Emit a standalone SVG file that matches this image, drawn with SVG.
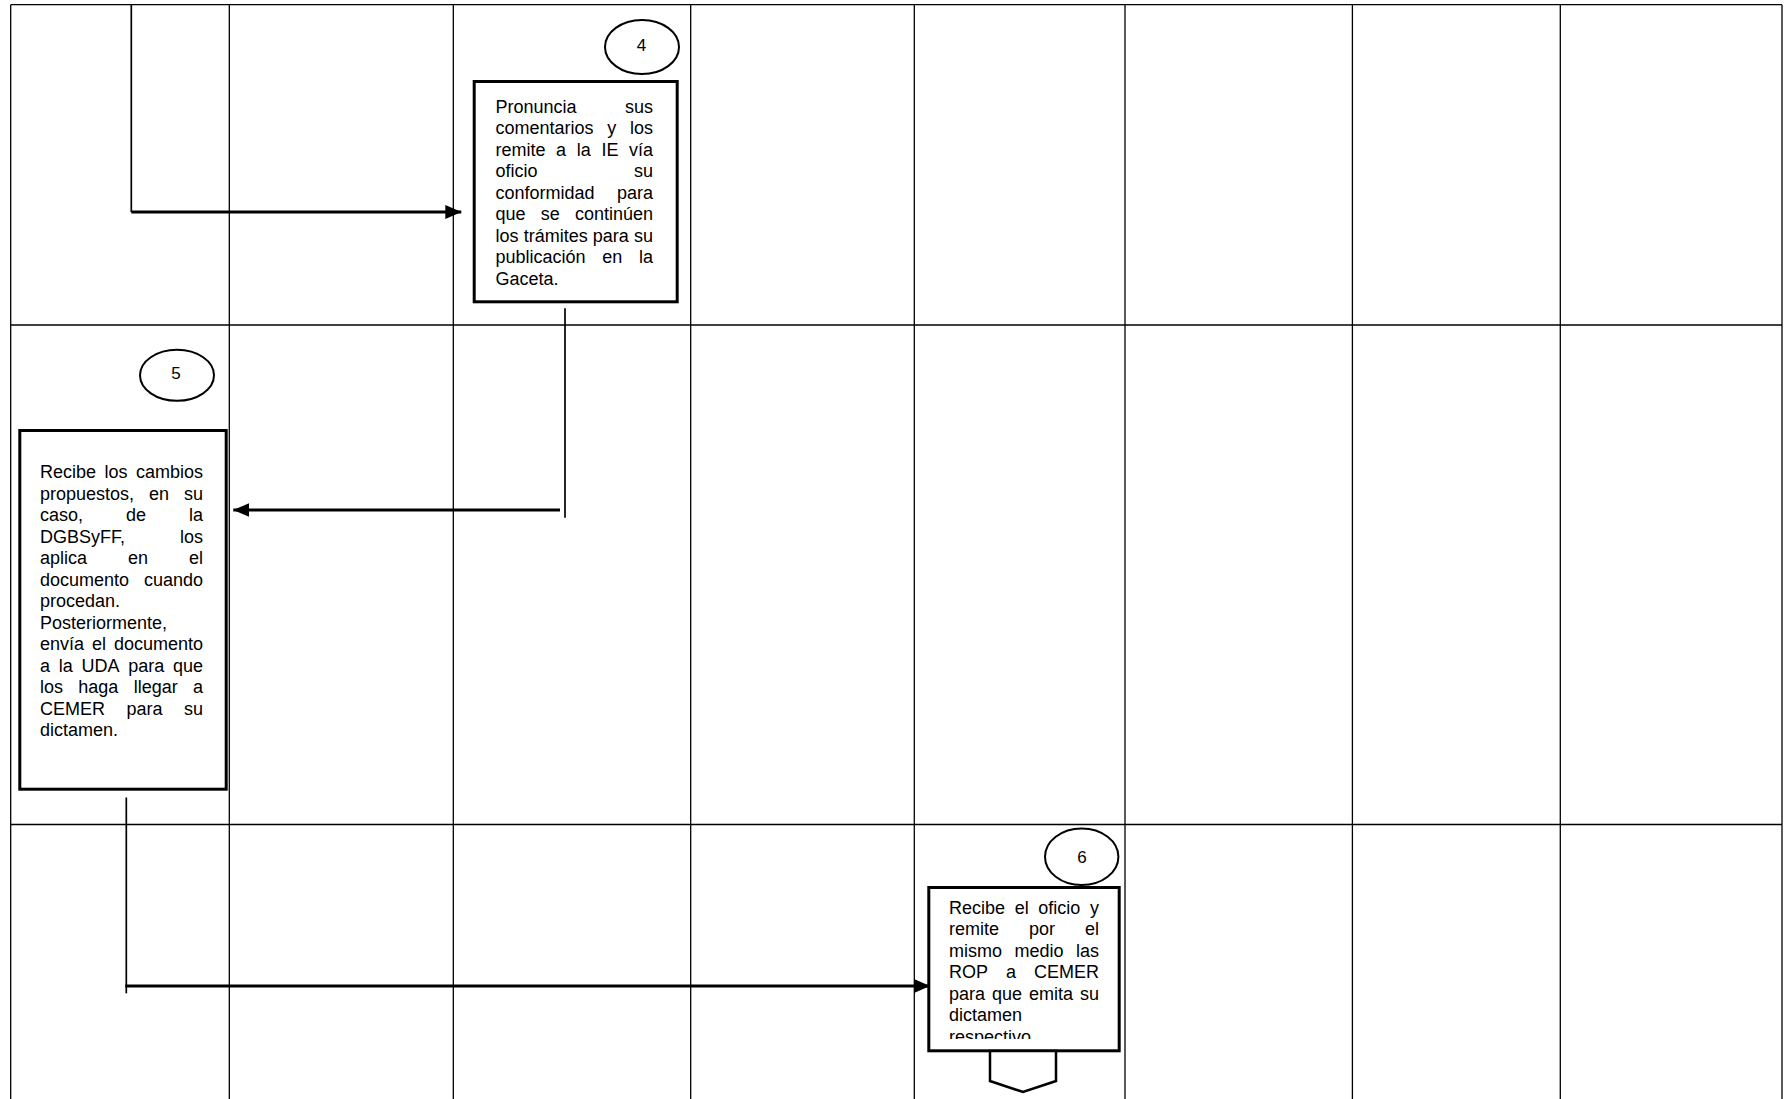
<svg xmlns="http://www.w3.org/2000/svg" width="1785" height="1099" viewBox="0 0 1785 1099">
<style>
  .grid line { stroke:#000; stroke-width:1.3; }
  .box { fill:#fff; stroke:#000; stroke-width:3; }
  .circ { fill:#fff; stroke:#000; stroke-width:2; }
  .num { font-family:"Liberation Sans", Arial, sans-serif; font-size:17px; fill:#000; text-anchor:middle; }
  .t { font-family:"Liberation Sans", Arial, sans-serif; font-size:18px; fill:#000; }
  .e { text-anchor:end; }
  .thin { stroke:#000; stroke-width:1.7; fill:none; }
  .thick { stroke:#000; stroke-width:3; fill:none; }
</style>
<defs>
  <marker id="arrow" markerUnits="userSpaceOnUse" markerWidth="16" markerHeight="14" refX="16" refY="7" orient="auto">
    <path d="M0,0 L16,7 L0,14 z" fill="#000"/>
  </marker>
  <clipPath id="clip6">
    <rect x="930" y="889" width="188" height="150"/>
  </clipPath>
</defs>
<rect x="0" y="0" width="1785" height="1099" fill="#fff"/>
<g class="grid" id="grid">
  <line x1="10.7" y1="4.7" x2="1782" y2="4.7"/>
  <line x1="10.7" y1="325" x2="1782" y2="325"/>
  <line x1="10.7" y1="824.5" x2="1782" y2="824.5"/>
  <line x1="10.7" y1="4.7" x2="10.7" y2="1099"/>
  <line x1="229.3" y1="4.7" x2="229.3" y2="1099"/>
  <line x1="453.3" y1="4.7" x2="453.3" y2="1099"/>
  <line x1="690.7" y1="4.7" x2="690.7" y2="1099"/>
  <line x1="914.3" y1="4.7" x2="914.3" y2="1099"/>
  <line x1="1125" y1="4.7" x2="1125" y2="1099"/>
  <line x1="1352.4" y1="4.7" x2="1352.4" y2="1099"/>
  <line x1="1560.3" y1="4.7" x2="1560.3" y2="1099"/>
  <line x1="1782" y1="4.7" x2="1782" y2="1099"/>
</g>
<g id="connectors">
  <line class="thin" x1="131.3" y1="4.7" x2="131.3" y2="212"/>
  <line class="thick" x1="131.3" y1="212" x2="461.3" y2="212" marker-end="url(#arrow)"/>
  <line class="thin" x1="565" y1="308.3" x2="565" y2="517.7"/>
  <line class="thick" x1="560" y1="510" x2="233.3" y2="510" marker-end="url(#arrow)"/>
  <line class="thin" x1="126.3" y1="797.5" x2="126.3" y2="993.3"/>
  <line class="thick" x1="125.3" y1="986" x2="930" y2="986" marker-end="url(#arrow)"/>
</g>
<g id="node4">
  <ellipse class="circ" cx="642" cy="47" rx="37" ry="27"/>
  <text class="num" x="641.5" y="51">4</text>
  <rect class="box" x="474.2" y="81.5" width="203" height="220.3"/>
  <text class="t" y="112.7"><tspan x="495.5">Pronuncia</tspan><tspan class="e" x="653">sus</tspan></text>
  <text class="t" y="134.2"><tspan x="495.5">comentarios</tspan><tspan x="607.3">y</tspan><tspan class="e" x="653">los</tspan></text>
  <text class="t" y="155.7"><tspan x="495.5">remite</tspan><tspan x="556.1">a</tspan><tspan x="576.8">la</tspan><tspan x="601.4">IE</tspan><tspan class="e" x="653">vía</tspan></text>
  <text class="t" y="177.2"><tspan x="495.5">oficio</tspan><tspan class="e" x="653">su</tspan></text>
  <text class="t" y="198.7"><tspan x="495.5">conformidad</tspan><tspan class="e" x="653">para</tspan></text>
  <text class="t" y="220.2"><tspan x="495.5">que</tspan><tspan x="540.8">se</tspan><tspan class="e" x="653">continúen</tspan></text>
  <text class="t" y="241.7"><tspan x="495.5">los</tspan><tspan x="523.7">trámites</tspan><tspan x="592.8">para</tspan><tspan class="e" x="653">su</tspan></text>
  <text class="t" y="263.2"><tspan x="495.5">publicación</tspan><tspan x="602.3">en</tspan><tspan class="e" x="653">la</tspan></text>
  <text class="t" y="284.7"><tspan x="495.5">Gaceta.</tspan></text>
</g>
<g id="node5">
  <ellipse class="circ" cx="177" cy="375.3" rx="37" ry="25.5"/>
  <text class="num" x="176" y="378.5">5</text>
  <rect class="box" x="19.8" y="430.5" width="206.4" height="358.7"/>
  <text class="t" y="478"><tspan x="40">Recibe</tspan><tspan x="104.5">los</tspan><tspan class="e" x="203">cambios</tspan></text>
  <text class="t" y="499.5"><tspan x="40">propuestos,</tspan><tspan x="149">en</tspan><tspan class="e" x="203">su</tspan></text>
  <text class="t" y="521"><tspan x="40">caso,</tspan><tspan x="126">de</tspan><tspan class="e" x="203">la</tspan></text>
  <text class="t" y="542.5"><tspan x="40">DGBSyFF,</tspan><tspan class="e" x="203">los</tspan></text>
  <text class="t" y="564"><tspan x="40">aplica</tspan><tspan x="128">en</tspan><tspan class="e" x="203">el</tspan></text>
  <text class="t" y="585.5"><tspan x="40">documento</tspan><tspan class="e" x="203">cuando</tspan></text>
  <text class="t" y="607"><tspan x="40">procedan.</tspan></text>
  <text class="t" y="628.5"><tspan x="40">Posteriormente,</tspan></text>
  <text class="t" y="650"><tspan x="40">envía</tspan><tspan x="92">el</tspan><tspan class="e" x="203">documento</tspan></text>
  <text class="t" y="671.5"><tspan x="40">a</tspan><tspan x="58.8">la</tspan><tspan x="81.5">UDA</tspan><tspan x="128.3">para</tspan><tspan class="e" x="203">que</tspan></text>
  <text class="t" y="693"><tspan x="40">los</tspan><tspan x="78.3">haga</tspan><tspan x="133.7">llegar</tspan><tspan class="e" x="203">a</tspan></text>
  <text class="t" y="714.5"><tspan x="40">CEMER</tspan><tspan x="126.5">para</tspan><tspan class="e" x="203">su</tspan></text>
  <text class="t" y="736"><tspan x="40">dictamen.</tspan></text>
</g>
<g id="node6">
  <ellipse class="circ" cx="1081.7" cy="856.7" rx="36.7" ry="28.3"/>
  <text class="num" x="1082" y="863">6</text>
  <rect class="box" x="928.8" y="887.5" width="190.4" height="163.3"/>
  <g clip-path="url(#clip6)">
    <text class="t" y="913.5"><tspan x="949">Recibe</tspan><tspan x="1014.7">el</tspan><tspan x="1038.3">oficio</tspan><tspan class="e" x="1099">y</tspan></text>
    <text class="t" y="935"><tspan x="949">remite</tspan><tspan x="1029">por</tspan><tspan class="e" x="1099">el</tspan></text>
    <text class="t" y="956.5"><tspan x="949">mismo</tspan><tspan x="1014.5">medio</tspan><tspan class="e" x="1099">las</tspan></text>
    <text class="t" y="978"><tspan x="949">ROP</tspan><tspan x="1006">a</tspan><tspan class="e" x="1099">CEMER</tspan></text>
    <text class="t" y="999.5"><tspan x="949">para</tspan><tspan x="992">que</tspan><tspan x="1029">emita</tspan><tspan class="e" x="1099">su</tspan></text>
    <text class="t" y="1021"><tspan x="949">dictamen</tspan></text>
    <text class="t" y="1042.5"><tspan x="949">respectivo</tspan></text>
  </g>
</g>
<g id="offpage">
  <path d="M990,1051 L1056,1051 L1056,1081 L1023,1092 L990,1081 Z" fill="#fff" stroke="#000" stroke-width="2.5"/>
</g>
</svg>
